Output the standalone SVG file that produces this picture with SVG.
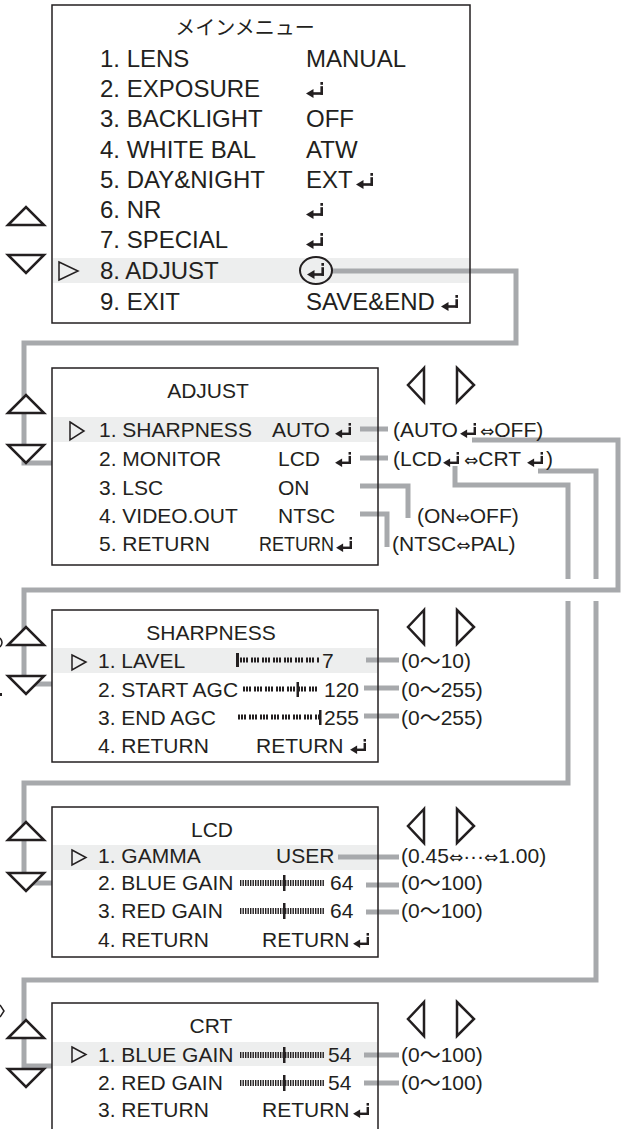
<svg xmlns="http://www.w3.org/2000/svg" xmlns:xlink="http://www.w3.org/1999/xlink" width="624" height="1129" viewBox="0 0 624 1129">
<style>
.t{font-family:"Liberation Sans",Arial,sans-serif;fill:#231f20}
.m{font-size:24px}
.s{font-size:21px}
.j{font-family:"Noto Sans CJK JP",sans-serif;font-size:20px;fill:#231f20}
.d{font-family:"DejaVu Sans",sans-serif;font-size:17px}
.w{font-family:"Noto Sans CJK JP",sans-serif}
.box{fill:none;stroke:#231f20;stroke-width:1.5}
.hl{fill:#edeeee}
.nav{fill:#fff;stroke:#231f20;stroke-width:2.5;stroke-linejoin:miter}
.ptr{fill:none;stroke:#231f20;stroke-width:1.5}
.con{fill:none;stroke:#a7a9ac;stroke-width:5}
.tk{stroke:#231f20;stroke-width:5;stroke-dasharray:2 1 2 1 2 3;fill:none}
.tf{stroke:#231f20;stroke-width:6;stroke-dasharray:1.4 1.1;fill:none}
.mk{fill:#231f20}
</style>
<defs>
<symbol id="ret" viewBox="0 0 18 16">
<polygon points="0,11.5 7.5,7 7.5,16" fill="#231f20"/>
<rect x="6" y="10.2" width="11" height="2.6" fill="#231f20"/>
<rect x="14.4" y="4.2" width="2.6" height="8.6" fill="#231f20"/>
<rect x="14.4" y="0" width="2.6" height="2.8" fill="#231f20"/>
</symbol>
</defs>
<rect width="624" height="1129" fill="#fff"/>

<g id="highlights">
<rect class="hl" x="52.75" y="258" width="416.5" height="25"/>
<rect class="hl" x="52.75" y="417" width="324.5" height="25"/>
<rect class="hl" x="52.75" y="648" width="324.5" height="25"/>
<rect class="hl" x="52.75" y="845" width="324.5" height="25"/>
<rect class="hl" x="52.75" y="1042" width="324.5" height="24"/>
</g>

<g id="connectors" class="con">
<path d="M332,271 H516 V343 H24 V463 H52"/>
<path d="M472,440 H618 V590 H24 V684 H52"/>
<path d="M455,466 V485 H568 V579 M568,601 V783 H24 V883 H52"/>
<path d="M538,471 H596 V579 M596,601 V980 H24 V1066 H52"/>
<path d="M360,429 H388"/>
<path d="M360,458 H388"/>
<path d="M360,486 H408 V518"/>
<path d="M360,514 H387 V547"/>
<path d="M366,660 H399"/>
<path d="M364,688 H399"/>
<path d="M364,716 H399"/>
<path d="M338,857 H399"/>
<path d="M366,885 H399"/>
<path d="M366,912 H399"/>
<path d="M364,1055 H399"/>
<path d="M364,1083 H399"/>
</g>

<g id="main-menu">
<rect class="box" x="52" y="5" width="418" height="318"/>
<text class="j" x="245" y="35" text-anchor="middle">メインメニュー</text>
<g class="t m">
<text x="100" y="67">1. LENS</text>
<text x="100" y="97">2. EXPOSURE</text>
<text x="100" y="127">3. BACKLIGHT</text>
<text x="100" y="158">4. WHITE BAL</text>
<text x="100" y="188">5. DAY&amp;NIGHT</text>
<text x="100" y="218">6. NR</text>
<text x="100" y="248">7. SPECIAL</text>
<text x="100" y="279">8. ADJUST</text>
<text x="100" y="310">9. EXIT</text>
<text x="306" y="67">MANUAL</text>
<text x="306" y="127">OFF</text>
<text x="306" y="158">ATW</text>
<text x="306" y="188">EXT</text>
<text x="306" y="310">SAVE&amp;END</text>
</g>
<use href="#ret" x="306" y="82" width="18" height="16"/>
<use href="#ret" x="356" y="173" width="18" height="16"/>
<use href="#ret" x="306" y="203" width="18" height="16"/>
<use href="#ret" x="306" y="233" width="18" height="16"/>
<use href="#ret" x="307" y="263" width="18" height="16"/>
<use href="#ret" x="441" y="295" width="18" height="16"/>
<ellipse cx="316" cy="270.5" rx="16" ry="13.5" fill="none" stroke="#231f20" stroke-width="2"/>
<polygon class="ptr" points="59,262 78,271 59,280"/>
<polygon class="nav" points="8,225 26,207 44,225"/>
<polygon class="nav" points="8,255 44,255 26,273"/>
</g>

<g id="adjust-menu">
<rect class="box" x="52" y="368" width="326" height="197"/>
<g class="t s">
<text x="208" y="398" text-anchor="middle">ADJUST</text>
<text x="99" y="437">1. SHARPNESS</text>
<text x="99" y="466">2. MONITOR</text>
<text x="99" y="495">3. LSC</text>
<text x="99" y="523">4. VIDEO.OUT</text>
<text x="99" y="551">5. RETURN</text>
<text x="272" y="437">AUTO</text>
<text x="278" y="466">LCD</text>
<text x="278" y="495">ON</text>
<text x="278" y="523">NTSC</text>
<text x="259" y="551" textLength="75" lengthAdjust="spacingAndGlyphs">RETURN</text>
<text x="393" y="437">(AUTO</text>
<text x="480" y="437"><tspan class="d">⇔</tspan>OFF)</text>
<text x="393" y="466">(LCD</text>
<text x="464" y="466"><tspan class="d">⇔</tspan>CRT</text>
<text x="546" y="466">)</text>
<text x="417" y="523">(ON<tspan class="d">⇔</tspan>OFF)</text>
<text x="392" y="551">(NTSC<tspan class="d">⇔</tspan>PAL)</text>
</g>
<use href="#ret" x="335" y="423" width="17" height="15"/>
<use href="#ret" x="335" y="452" width="17" height="15"/>
<use href="#ret" x="336" y="537" width="17" height="15"/>
<use href="#ret" x="460" y="423" width="17" height="15"/>
<use href="#ret" x="443" y="452" width="17" height="15"/>
<use href="#ret" x="527" y="452" width="17" height="15"/>
<polygon class="ptr" points="70,422 84,431 70,440"/>
<polygon class="nav" points="8,413 26,395 44,413"/>
<polygon class="nav" points="8,445 44,445 26,463"/>
<polygon class="nav" points="424,368 408,385 424,402"/>
<polygon class="nav" points="457,368 474,385 457,402"/>
</g>

<g id="sharpness-menu">
<rect class="box" x="52" y="610" width="326" height="152"/>
<g class="t s">
<text x="211" y="640" text-anchor="middle">SHARPNESS</text>
<text x="98" y="668">1. LAVEL</text>
<text x="98" y="697">2. START AGC</text>
<text x="98" y="725">3. END AGC</text>
<text x="98" y="753">4. RETURN</text>
<text x="322" y="668">7</text>
<text x="324" y="697">120</text>
<text x="324" y="725">255</text>
<text x="256" y="753">RETURN</text>
<text x="401" y="668">(0<tspan class="w">～</tspan>10)</text>
<text x="401" y="697">(0<tspan class="w">～</tspan>255)</text>
<text x="401" y="725">(0<tspan class="w">～</tspan>255)</text>
</g>
<path class="tk" d="M240,660 H320"/>
<rect class="mk" x="236" y="653" width="3" height="14"/>
<path class="tk" d="M243,689 H320"/>
<rect class="mk" x="296.5" y="682" width="2.5" height="15"/>
<path class="tk" d="M238,717 H319"/>
<rect class="mk" x="319" y="710" width="2.5" height="15"/>
<use href="#ret" x="350" y="739" width="17" height="15"/>
<polygon class="ptr" points="72,655 86,662 72,670"/>
<polygon class="nav" points="8,645 26,627 44,645"/>
<polygon class="nav" points="8,676 44,676 26,694"/>
<polygon class="nav" points="424,610 408,627 424,644"/>
<polygon class="nav" points="457,610 474,627 457,644"/>
</g>

<g id="lcd-menu">
<rect class="box" x="52" y="807" width="326" height="150"/>
<g class="t s">
<text x="212" y="837" text-anchor="middle">LCD</text>
<text x="98" y="863">1. GAMMA</text>
<text x="98" y="890">2. BLUE GAIN</text>
<text x="98" y="918">3. RED GAIN</text>
<text x="98" y="947">4. RETURN</text>
<text x="276" y="863">USER</text>
<text x="330" y="890">64</text>
<text x="330" y="918">64</text>
<text x="262" y="947">RETURN</text>
<text x="401" y="863">(0.45<tspan class="d">⇔</tspan>···<tspan class="d">⇔</tspan>1.00)</text>
<text x="401" y="890">(0<tspan class="w">～</tspan>100)</text>
<text x="401" y="918">(0<tspan class="w">～</tspan>100)</text>
</g>
<path class="tf" d="M240,883 H324"/>
<rect class="mk" x="283" y="875" width="2.5" height="16"/>
<path class="tf" d="M240,911 H324"/>
<rect class="mk" x="283" y="903" width="2.5" height="16"/>
<use href="#ret" x="353" y="933" width="17" height="15"/>
<polygon class="ptr" points="72,850 86,857.5 72,865"/>
<polygon class="nav" points="8,840 26,822 44,840"/>
<polygon class="nav" points="8,873 44,873 26,891"/>
<polygon class="nav" points="424,809 408,826 424,843"/>
<polygon class="nav" points="457,809 474,826 457,843"/>
</g>

<g id="crt-menu">
<rect class="box" x="52" y="1003" width="326" height="140"/>
<g class="t s">
<text x="211" y="1033" text-anchor="middle">CRT</text>
<text x="98" y="1062">1. BLUE GAIN</text>
<text x="98" y="1090">2. RED GAIN</text>
<text x="98" y="1117">3. RETURN</text>
<text x="328" y="1062">54</text>
<text x="328" y="1090">54</text>
<text x="262" y="1117">RETURN</text>
<text x="401" y="1062">(0<tspan class="w">～</tspan>100)</text>
<text x="401" y="1090">(0<tspan class="w">～</tspan>100)</text>
</g>
<path class="tf" d="M240,1055 H324"/>
<rect class="mk" x="283" y="1047" width="2.5" height="16"/>
<path class="tf" d="M240,1083 H324"/>
<rect class="mk" x="283" y="1075" width="2.5" height="16"/>
<use href="#ret" x="353" y="1103" width="17" height="15"/>
<polygon class="ptr" points="72,1047 86,1054.5 72,1062"/>
<polygon class="nav" points="8,1038 26,1020 44,1038"/>
<polygon class="nav" points="8,1069 44,1069 26,1087"/>
<polygon class="nav" points="424,1002 408,1019 424,1036"/>
<polygon class="nav" points="457,1002 474,1019 457,1036"/>
</g>

<g id="edge-marks" fill="none" stroke="#231f20" stroke-width="1.5">
<path d="M0,638 Q4,642.5 0,647"/>
<rect x="0" y="693" width="2" height="3" fill="#231f20" stroke="none"/>
<path d="M0,1005 L4,1011 L0,1017"/>
</g>
</svg>
